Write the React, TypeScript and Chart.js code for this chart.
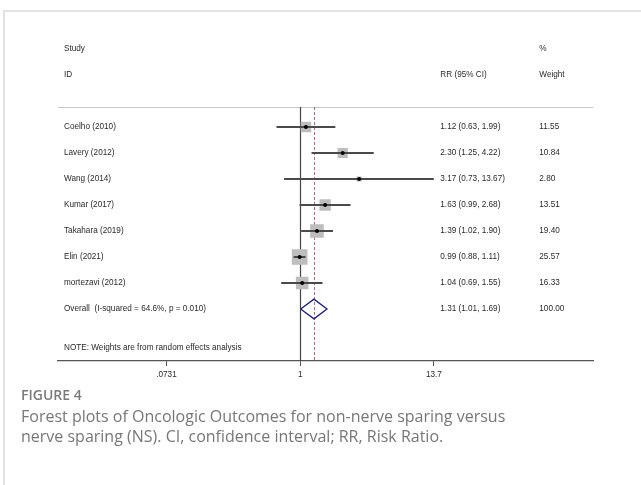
import React, { useEffect, useRef } from 'react';
import { Chart, registerables } from 'chart.js';

Chart.register(...registerables);

// ---- data ----
const studies = ['Coelho (2010)', 'Lavery (2012)', 'Wang (2014)', 'Kumar (2017)', 'Takahara (2019)', 'Elin (2021)', 'mortezavi (2012)'];
const rr = [1.12, 2.3, 3.17, 1.63, 1.39, 0.99, 1.04];
const lower = [0.63, 1.25, 0.73, 0.99, 1.02, 0.88, 0.69];
const upper = [1.99, 4.22, 13.67, 2.68, 1.9, 1.11, 1.55];
const weights = [11.55, 10.84, 2.8, 13.51, 19.4, 25.57, 16.33];
const overallLabel = 'Overall  (I-squared = 64.6%, p = 0.010)';
const overallRR = 1.31;
const overallLower = 1.01;
const overallUpper = 1.69;
const overallWeight = 100.0;
const noteText = 'NOTE: Weights are from random effects analysis';
const xTicks = [0.0731, 1, 13.7];
const xTickLabels = ['.0731', '1', '13.7'];

const FONT = "8.2px 'Liberation Sans', Arial, sans-serif";
const TEXT = '#2a2a2a';

const forestPlugin = {
  id: 'forest',
  beforeDatasetsDraw(chart: any) {
    const { ctx, chartArea, scales } = chart;
    const { left, right, top, bottom } = chartArea;
    const x = scales.x;
    ctx.save();
    ctx.strokeStyle = '#c8c8c8';
    ctx.lineWidth = 1;
    ctx.beginPath();
    ctx.moveTo(left, top + 0.5);
    ctx.lineTo(right, top + 0.5);
    ctx.stroke();
    const x1 = Math.round(x.getPixelForValue(1)) + 0.5;
    ctx.strokeStyle = '#444';
    ctx.lineWidth = 1.2;
    ctx.beginPath();
    ctx.moveTo(x1, top);
    ctx.lineTo(x1, bottom);
    ctx.stroke();
    const xo = Math.round(x.getPixelForValue(overallRR)) + 0.5;
    ctx.strokeStyle = '#b46a78';
    ctx.lineWidth = 1;
    ctx.setLineDash([3, 2]);
    ctx.beginPath();
    ctx.moveTo(xo, top);
    ctx.lineTo(xo, bottom);
    ctx.stroke();
    ctx.restore();
  },
  afterDraw(chart: any) {
    const { ctx, chartArea, scales } = chart;
    const y = scales.y;
    const c1 = chartArea.left + 6;
    const c2 = chartArea.right - 153;
    const c3 = chartArea.right - 54;
    ctx.save();
    ctx.font = FONT;
    ctx.fillStyle = TEXT;
    ctx.textBaseline = 'middle';
    ctx.textAlign = 'left';
    const put = (t: string, xx: number, row: number) => ctx.fillText(t, xx, y.getPixelForValue(row));
    put('Study', c1, -3);
    put('%', c3, -3);
    put('ID', c1, -2);
    put('RR (95% CI)', c2, -2);
    put('Weight', c3, -2);
    studies.forEach((s, i) => {
      put(s, c1, i);
      put(`${rr[i].toFixed(2)} (${lower[i].toFixed(2)}, ${upper[i].toFixed(2)})`, c2, i);
      put(weights[i].toFixed(2), c3, i);
    });
    const oi = studies.length;
    put(overallLabel, c1, oi);
    put(`${overallRR.toFixed(2)} (${overallLower.toFixed(2)}, ${overallUpper.toFixed(2)})`, c2, oi);
    put(overallWeight.toFixed(2), c3, oi);
    put(noteText, c1, oi + 1.5);
    ctx.restore();
  },
};

export default function App() {
  const ref = useRef<HTMLCanvasElement>(null);
  useEffect(() => {
    document.body.style.margin = '0';
    const canvas = ref.current!;
    const datasets: any[] = [];
    datasets.push({
      data: rr.map((v, i) => ({ x: v, y: i })),
      pointRadius: 2,
      pointBackgroundColor: '#000',
      pointBorderWidth: 0,
      order: 0,
    });
    rr.forEach((_, i) => {
      datasets.push({
        data: [{ x: lower[i], y: i }, { x: upper[i], y: i }],
        showLine: true,
        borderColor: '#4a4a4a',
        borderWidth: 1.8,
        pointRadius: 0,
        order: 1,
      });
    });
    datasets.push({
      data: rr.map((v, i) => ({ x: v, y: i })),
      pointStyle: 'rect',
      pointRadius: (c: any) => (1.55 * Math.sqrt(weights[c.dataIndex])) / Math.SQRT1_2,
      pointBackgroundColor: '#bdbdbd',
      pointBorderWidth: 0,
      order: 2,
    });
    const oi = studies.length;
    const h = 0.38;
    datasets.push({
      data: [
        { x: overallLower, y: oi },
        { x: overallRR, y: oi - h },
        { x: overallUpper, y: oi },
        { x: overallRR, y: oi + h },
        { x: overallLower, y: oi },
      ],
      showLine: true,
      borderColor: '#1f1f78',
      borderWidth: 1.3,
      pointRadius: 0,
      fill: false,
      order: 0,
    });

    const chart = new Chart(canvas, {
      type: 'scatter',
      data: { datasets },
      plugins: [forestPlugin],
      options: {
        animation: false,
        responsive: false,
        events: [],
        layout: { padding: { left: 58, right: 47.7, top: 107, bottom: 9 } },
        plugins: { legend: { display: false }, tooltip: { enabled: false } },
        scales: {
          x: {
            type: 'logarithmic',
            min: 0.00875,
            max: 310,
            afterBuildTicks: (s: any) => {
              s.ticks = xTicks.map((v) => ({ value: v }));
            },
            afterFit: (s: any) => {
              s.height = 30;
            },
            ticks: {
              autoSkip: false,
              maxRotation: 0,
              padding: 4,
              color: TEXT,
              font: { family: "'Liberation Sans', Arial, sans-serif", size: 8.2 },
              callback: (_v: any, i: number) => xTickLabels[i],
            },
            grid: { drawOnChartArea: false, drawTicks: true, tickLength: 5, color: '#555' },
            border: { display: true, color: '#555', width: 1.2 },
          },
          y: {
            type: 'linear',
            reverse: true,
            min: -0.77,
            max: 9,
            display: false,
          },
        },
      } as any,
    });
    return () => chart.destroy();
  }, []);

  return (
    <div style={{ position: 'relative', width: 641, height: 485, overflow: 'hidden', background: '#fff' }}>
      <div
        style={{
          position: 'absolute',
          left: 3,
          top: 10,
          width: 800,
          height: 600,
          borderTop: '2px solid #e2e2e2',
          borderLeft: '2px solid #e2e2e2',
        }}
      />
      <canvas ref={ref} width={641} height={400} style={{ position: 'absolute', left: 0, top: 0, width: 641, height: 400 }} />
      <div
        style={{
          position: 'absolute',
          left: 21,
          top: 385,
          font: "600 14px 'Open Sans', sans-serif",
          color: '#7a7a7a',
        }}
      >
        FIGURE 4
      </div>
      <div
        style={{
          position: 'absolute',
          left: 21,
          top: 406,
          font: "400 16px 'Open Sans', sans-serif",
          lineHeight: '20px',
          color: '#777',
          whiteSpace: 'nowrap',
        }}
      >
        Forest plots of Oncologic Outcomes for non-nerve sparing versus
        <br />
        nerve sparing (NS). CI, confidence interval; RR, Risk Ratio.
      </div>
    </div>
  );
}
